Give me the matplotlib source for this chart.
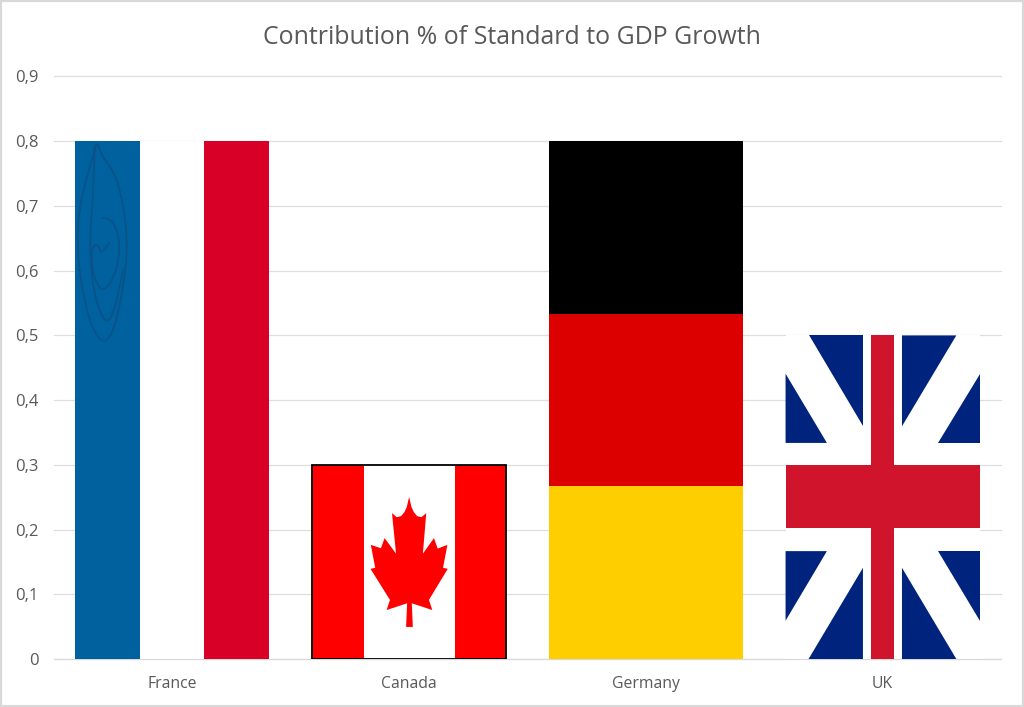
import matplotlib
matplotlib.use("Agg")
import matplotlib.pyplot as plt
from matplotlib.patches import Polygon, Rectangle
from matplotlib.ticker import FuncFormatter

categories = ["France", "Canada", "Germany", "UK"]
values = [0.8, 0.3, 0.8, 0.5]
y_ticks = [0, 0.1, 0.2, 0.3, 0.4, 0.5, 0.6, 0.7, 0.8, 0.9]
title = "Contribution % of Standard to GDP Growth"

# flag shapes are in pixels of the flag artwork, scaled onto each bar below
leaf = [(329, 130), (336, 160), (343, 175), (353, 187), (366, 190), (380, 178), (370, 298), (403, 252),
        (414, 283), (443, 272), (430, 340), (444, 343), (388, 435), (398, 465), (337, 445), (340, 515),
        (320, 515), (323, 445), (262, 465), (272, 435), (214, 343), (228, 340), (215, 272), (245, 282),
        (256, 252), (290, 298), (278, 178), (292, 190), (305, 187), (315, 175), (322, 160)]
uk_triangles = [[(117, 30), (280, 30), (280, 303)], [(397, 30), (560, 30), (397, 303)],
                [(48, 145), (172, 353), (48, 353)], [(630, 145), (630, 353), (506, 353)],
                [(48, 678), (172, 678), (48, 887)], [(506, 678), (630, 678), (630, 887)],
                [(117, 1002), (280, 728), (280, 1002)], [(397, 728), (560, 1002), (397, 1002)]]
# the swirl watermark on the blue stripe
swirl = [[(110, 45), (85, 130), (60, 230), (52, 330), (62, 450), (90, 580), (130, 648), (165, 600),
          (195, 450), (203, 330), (190, 220), (165, 130), (130, 85), (115, 45)],
         [(105, 50), (100, 200), (92, 300), (92, 400), (105, 500), (130, 570), (150, 575), (170, 520), (190, 420)],
         [(130, 265), (155, 270), (175, 310), (180, 370), (165, 440), (130, 490), (105, 450), (95, 400),
          (98, 350), (115, 345), (125, 375), (148, 340)]]


def to_unit(points, x0, x1, y0, y1):
    return [((x - x0) / (x1 - x0), (y1 - y) / (y1 - y0)) for x, y in points]


def rounded(points):
    # corner cutting, takes the kinks out of the hand read curves
    for n in range(3):
        new = [points[0]]
        for a, b in zip(points[:-1], points[1:]):
            new.append((0.75 * a[0] + 0.25 * b[0], 0.75 * a[1] + 0.25 * b[1]))
            new.append((0.25 * a[0] + 0.75 * b[0], 0.25 * a[1] + 0.75 * b[1]))
        new.append(points[-1])
        points = new
    return points


plt.rcParams["font.family"] = ["Open Sans", "DejaVu Sans"]
fig = plt.figure(figsize=(10.24, 7.07), dpi=100)
ax = fig.add_axes([54 / 1024, 1 - 659 / 707, 947 / 1024, 582.5 / 707])

bars = ax.bar(categories, values, width=0.82, color="white", zorder=2)
ax.set_xlim(-0.5, 3.5)
ax.set_ylim(0, 0.9)


def unit(bar):
    # maps 0-1 inside a bar to the data position of that bar
    return bar.get_patch_transform() + ax.transData


# France
t = unit(bars[0])
ax.add_patch(Rectangle((0, 0), 1 / 3, 1, transform=t, color="#00619f", lw=0, zorder=3))
ax.add_patch(Rectangle((0.665, 0), 0.335, 1, transform=t, color="#d80027", lw=0, zorder=3))
for curve in swirl:
    pts = to_unit(rounded(curve), 47, 628, 35, 1589)
    ax.plot([p[0] for p in pts], [p[1] for p in pts], transform=t, color="#0a5288", lw=1.3,
            solid_joinstyle="round", zorder=4)

# Canada
t = unit(bars[1])
ax.add_patch(Rectangle((0, 0), 1, 1, transform=t, fc="white", ec="none", zorder=3))
ax.add_patch(Rectangle((0, 0), 0.265, 1, transform=t, color="#ff0000", lw=0, zorder=3))
ax.add_patch(Rectangle((0.735, 0), 0.265, 1, transform=t, color="#ff0000", lw=0, zorder=3))
ax.add_patch(Polygon(to_unit(leaf, 40, 618, 35, 610), transform=t, color="#ff0000", lw=0, zorder=4))
ax.add_patch(Rectangle((0, 0), 1, 1, transform=t, fill=False, ec="black", lw=1.3, zorder=5))

# Germany
t = unit(bars[2])
for i, c in enumerate(["#ffce00", "#dd0000", "#000000"]):
    ax.add_patch(Rectangle((0, i / 3), 1, 1 / 3, transform=t, color=c, lw=0, zorder=3))

# UK
t = unit(bars[3])
for tri in uk_triangles:
    ax.add_patch(Polygon(to_unit(tri, 48, 630, 30, 1002), transform=t, color="#00247d", lw=0, zorder=3))
ax.add_patch(Rectangle(((304 - 48) / 582, 0), 69 / 582, 1, transform=t, color="#cf142b", lw=0, zorder=4))
ax.add_patch(Rectangle((0, (1002 - 610) / 972), 1, 190 / 972, transform=t, color="#cf142b", lw=0, zorder=4))

ax.set_yticks(y_ticks)
ax.yaxis.set_major_formatter(FuncFormatter(lambda v, p: ("%g" % round(v, 1)).replace(".", ",")))
ax.grid(axis="y", color="#dedede", lw=0.9, zorder=0)
for g in ax.get_ygridlines():
    g.set_clip_on(False)
ax.set_axisbelow(True)
ax.tick_params(length=0)
ax.tick_params(axis="y", labelsize=12, labelcolor="#595959", pad=11)
ax.tick_params(axis="x", labelsize=11.3, labelcolor="#595959", pad=12)
for s in ["top", "right", "left"]:
    ax.spines[s].set_visible(False)
ax.spines["bottom"].set_color("#d9d9d9")

fig.text(512 / 1024, 1 - 37 / 707, title, ha="center", va="center", fontsize=17.9, color="#595959")
# chart frame, half of the line falls off the canvas
fig.add_artist(Rectangle((0, 0), 1, 1, transform=fig.transFigure, fill=False, ec="#d9d9d9", lw=3))

fig.savefig("out.png", dpi=100)
